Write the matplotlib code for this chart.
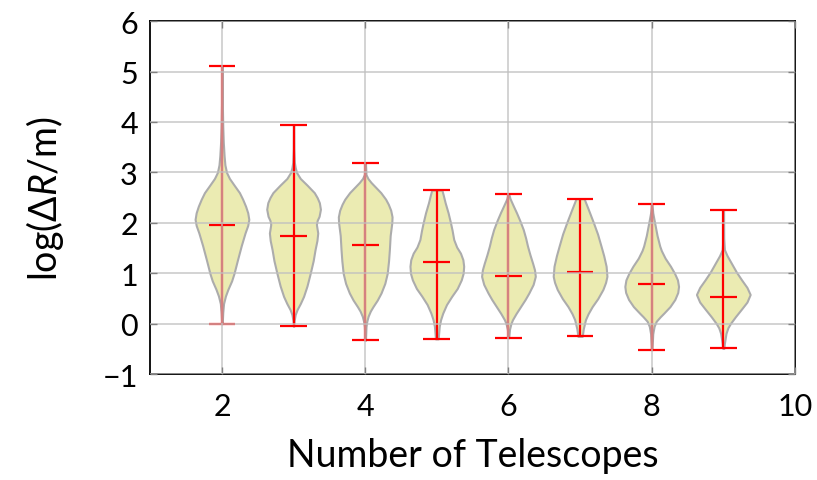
"""Violin plot of log(dR/m) against number of telescopes."""

import matplotlib
matplotlib.use("Agg")
import matplotlib.pyplot as plt

plt.rcParams["font.family"] = ["Lato", "DejaVu Sans"]
plt.rcParams["mathtext.fontset"] = "custom"
plt.rcParams["mathtext.rm"] = "Lato"
plt.rcParams["mathtext.it"] = "Lato:italic"

telescopes = [2, 3, 4, 5, 6, 7, 8, 9]
medians = [1.95, 1.74, 1.56, 1.23, 0.95, 1.03, 0.78, 0.53]
mins = [0.00, -0.05, -0.33, -0.30, -0.28, -0.25, -0.52, -0.49]
maxs = [5.12, 3.95, 3.19, 2.65, 2.58, 2.48, 2.37, 2.25]

# density profiles: (level, relative half-width)
profiles = [
    [(0.00, 0.01), (0.22, 0.03), (0.40, 0.06), (0.55, 0.13), (0.68, 0.22),
     (0.85, 0.36), (1.00, 0.45), (1.27, 0.58), (1.55, 0.72), (1.80, 0.86),
     (1.95, 0.96), (2.07, 1.00), (2.20, 0.96), (2.33, 0.88), (2.47, 0.77),
     (2.60, 0.65), (2.75, 0.45), (2.88, 0.28), (3.00, 0.17), (3.15, 0.11),
     (3.33, 0.08), (3.60, 0.05), (3.92, 0.03), (4.50, 0.01), (5.12, 0.005)],
    [(-0.05, 0.01), (0.06, 0.02), (0.18, 0.06), (0.28, 0.13), (0.40, 0.25),
     (0.54, 0.37), (0.75, 0.50), (1.00, 0.62), (1.25, 0.73), (1.47, 0.80),
     (1.65, 0.87), (1.80, 0.90), (1.90, 0.87), (1.97, 0.85), (2.05, 0.88),
     (2.13, 0.95), (2.27, 1.00), (2.40, 0.96), (2.50, 0.88), (2.60, 0.77),
     (2.75, 0.50), (2.88, 0.25), (3.00, 0.11), (3.10, 0.06), (3.20, 0.03),
     (3.47, 0.01), (3.95, 0.005)],
    [(-0.33, 0.01), (-0.06, 0.03), (0.05, 0.06), (0.15, 0.11), (0.25, 0.19),
     (0.34, 0.29), (0.47, 0.45), (0.61, 0.59), (0.80, 0.73), (1.00, 0.82),
     (1.25, 0.87), (1.47, 0.90), (1.75, 0.93), (2.00, 0.99), (2.12, 1.00),
     (2.25, 0.95), (2.37, 0.86), (2.47, 0.76), (2.60, 0.58), (2.70, 0.40),
     (2.80, 0.22), (2.88, 0.10), (2.96, 0.03), (3.19, 0.01)],
    [(-0.30, 0.05), (-0.05, 0.09), (0.08, 0.14), (0.21, 0.22), (0.38, 0.36),
     (0.54, 0.55), (0.70, 0.76), (0.87, 0.91), (1.00, 0.98), (1.14, 1.00),
     (1.27, 0.97), (1.40, 0.88), (1.52, 0.74), (1.67, 0.63), (1.85, 0.57),
     (2.00, 0.51), (2.20, 0.42), (2.40, 0.31), (2.55, 0.24), (2.65, 0.19)],
    [(-0.28, 0.01), (-0.11, 0.04), (0.00, 0.09), (0.08, 0.15), (0.20, 0.28),
     (0.34, 0.45), (0.48, 0.62), (0.61, 0.76), (0.78, 0.92), (0.94, 1.00),
     (1.07, 0.97), (1.20, 0.90), (1.37, 0.80), (1.54, 0.71), (1.70, 0.64),
     (1.87, 0.55), (2.05, 0.42), (2.20, 0.30), (2.35, 0.17), (2.48, 0.06),
     (2.58, 0.01)],
    [(-0.25, 0.08), (-0.10, 0.12), (0.08, 0.20), (0.20, 0.30), (0.34, 0.45),
     (0.50, 0.66), (0.68, 0.85), (0.82, 0.95), (0.94, 1.00), (1.14, 0.97),
     (1.35, 0.88), (1.54, 0.78), (1.78, 0.65), (2.00, 0.50), (2.25, 0.32),
     (2.48, 0.15)],
    [(-0.52, 0.01), (-0.20, 0.04), (-0.05, 0.09), (0.05, 0.17), (0.14, 0.32),
     (0.21, 0.45), (0.34, 0.68), (0.48, 0.86), (0.62, 0.97), (0.74, 1.00),
     (0.87, 0.96), (1.00, 0.85), (1.14, 0.70), (1.30, 0.50), (1.45, 0.36),
     (1.54, 0.30), (1.75, 0.20), (2.00, 0.11), (2.20, 0.04), (2.37, 0.01)],
    [(-0.49, 0.02), (-0.39, 0.04), (-0.19, 0.10), (-0.08, 0.17), (0.01, 0.27),
     (0.14, 0.45), (0.28, 0.66), (0.43, 0.88), (0.58, 1.00), (0.72, 0.88),
     (0.87, 0.68), (1.03, 0.48), (1.20, 0.30), (1.35, 0.14), (1.47, 0.04),
     (1.70, 0.015), (2.25, 0.01)],
]

vpstats = []
for prof, med, lo, hi in zip(profiles, medians, mins, maxs):
    vpstats.append({
        "coords": [p[0] for p in prof],
        "vals": [p[1] for p in prof],
        "mean": med,
        "median": med,
        "min": lo,
        "max": hi,
    })

fig, ax = plt.subplots(figsize=(8.17, 4.81), dpi=100)
fig.subplots_adjust(left=0.184, right=0.973, bottom=0.22, top=0.954)

parts = ax.violin(vpstats, positions=telescopes, widths=0.75,
                  showmeans=False, showextrema=True, showmedians=True)
for body in parts["bodies"]:
    body.set_alpha(None)
    body.set_facecolor((0.75, 0.75, 0.0, 0.3))
    body.set_edgecolor("#acacac")
    body.set_linewidth(1.5)
for key in ("cbars", "cmins", "cmaxes", "cmedians"):
    parts[key].set_color("red")
    parts[key].set_linewidth(1.6)

ax.set_xlim(1, 10)
ax.set_ylim(-1, 6)
ax.set_xticks([2, 4, 6, 8, 10])
ax.set_yticks(range(-1, 7))
ax.set_axisbelow(False)
ax.grid(True, color="#c0c0c0", linewidth=1.3, alpha=0.75)
ax.tick_params(direction="in", length=5, width=1, color="#808080",
               top=True, right=True, labelsize=22, pad=9)
ax.tick_params(axis="x", pad=13)
for sp in ax.spines.values():
    sp.set_linewidth(1.3)

ax.set_xlabel("Number of Telescopes", fontsize=27, labelpad=12)
ax.set_ylabel(r"log($\Delta R$/m)", fontsize=27, labelpad=26)

fig.savefig("out.png", dpi=100)
